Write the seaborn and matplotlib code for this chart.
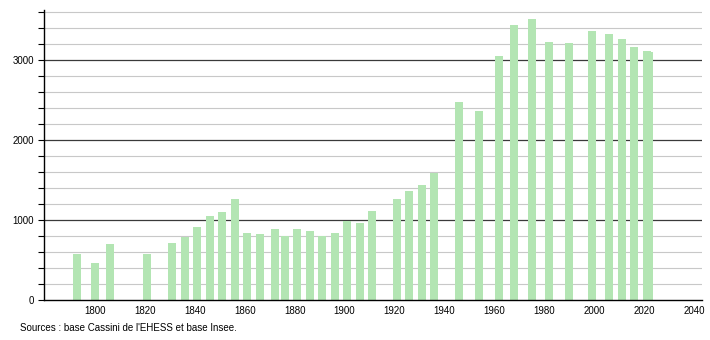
import matplotlib
matplotlib.use("Agg")
import matplotlib.pyplot as plt
import seaborn as sns
import numpy as np

years = [1793, 1800, 1806, 1821, 1831, 1836, 1841, 1846, 1851, 1856, 1861, 1866,
         1872, 1876, 1881, 1886, 1891, 1896, 1901, 1906, 1911, 1921, 1926, 1931,
         1936, 1946, 1954, 1962, 1968, 1975, 1982, 1990, 1999, 2006, 2011, 2016,
         2021, 2022]
population = [575, 458, 700, 575, 712, 792, 912, 1050, 1104, 1258, 837, 825,
              885, 796, 883, 858, 796, 842, 992, 967, 1117, 1258, 1362, 1437,
              1592, 2475, 2362, 3054, 3437, 3512, 3225, 3208, 3358, 3325, 3262, 3158,
              3112, 3100]
x_ticks = list(range(1800, 2041, 20))
y_major = [0, 1000, 2000, 3000]
y_minor = [v for v in range(200, 3601, 200) if v % 1000 != 0]
source_text = "Sources : base Cassini de l'EHESS et base Insee."

plt.rcParams['font.family'] = ['Liberation Sans', 'DejaVu Sans']

fig = plt.figure(figsize=(7.1, 3.4), dpi=100)
ax = fig.add_axes([44 / 710, 40 / 340, (702 - 44) / 710, 290 / 340])

sns.barplot(x=years, y=population, native_scale=True, width=3.2,
            color="#b3e5b3", saturation=1, errorbar=None, ax=ax, zorder=3)

ax.set_xlim(1779.6, 2043.2)
ax.set_ylim(0, 3625)
ax.set_xticks(x_ticks)
ax.set_xticklabels([str(t) for t in x_ticks])
ax.set_yticks(y_major)
ax.set_yticklabels([str(t) for t in y_major])
ax.set_yticks(y_minor, minor=True)

ax.grid(False)
for v in y_minor:
    ax.axhline(v, color="#c8c8c8", lw=0.8, zorder=1)
for v in y_major[1:]:
    ax.axhline(v, color="#3a3a3a", lw=0.9, zorder=2)

for s in ["top", "right"]:
    ax.spines[s].set_visible(False)
for s in ["left", "bottom"]:
    ax.spines[s].set_color("black")
    ax.spines[s].set_linewidth(1.0)
    ax.spines[s].set_zorder(5)

ax.tick_params(axis="x", length=0, pad=4, labelsize=7, colors="black")
ax.tick_params(axis="y", which="major", length=4, width=0.8, pad=3, labelsize=7)
ax.tick_params(axis="y", which="minor", length=4, width=0.8)
ax.set_xlabel("")
ax.set_ylabel("")

fig.text(20 / 710, 1 - 328 / 340, source_text, fontsize=7, va="center", ha="left")

fig.savefig("out.png", dpi=100)
